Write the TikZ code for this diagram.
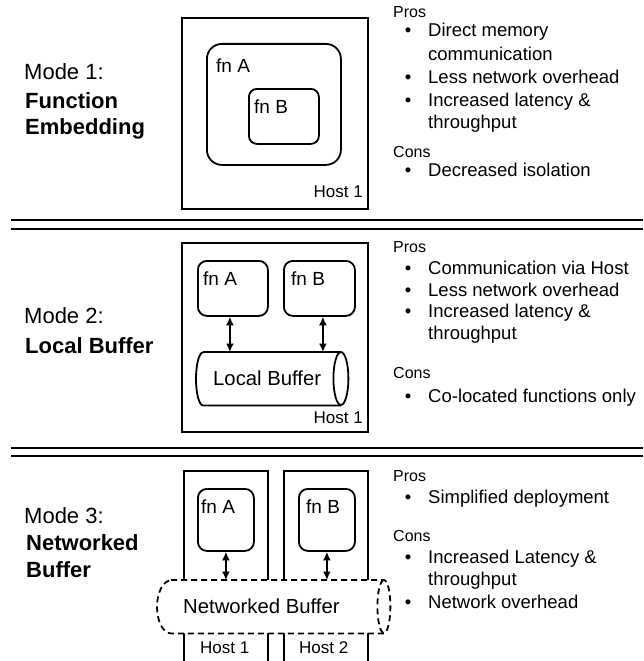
\documentclass[tikz,border=0pt]{standalone}
\usepackage{fontspec}
\setmainfont{Liberation Sans}
\usetikzlibrary{arrows.meta,calc}
\begin{document}
\begin{tikzpicture}[x=1pt,y=-1pt,
  box/.style={draw,line width=1.8pt,inner sep=0pt,anchor=north west},
  ghost/.style={inner sep=0pt,anchor=north west},
  modet/.style={anchor=base west,inner sep=0pt,font=\fontsize{22}{26}\selectfont},
  modeb/.style={modet,font=\fontsize{22}{26}\selectfont\bfseries},
  pc/.style={anchor=base west,inner sep=0pt,font=\fontsize{16}{19}\selectfont},
  itm/.style={anchor=base west,inner sep=0pt,font=\fontsize{18.5}{22}\selectfont},
  bul/.style={anchor=base,inner sep=0pt,font=\fontsize{18.5}{22}\selectfont},
  fnl/.style={anchor=base west,inner sep=0pt,font=\fontsize{19}{22}\selectfont},
  bufl/.style={anchor=base west,inner sep=0pt,font=\fontsize{20.3}{24}\selectfont},
  hostl/.style={inner sep=0pt,font=\fontsize{17}{20}\selectfont},
  sepline/.style={line width=2.4pt},
  dbl/.style={line width=1.8pt,{Latex[length=8.5pt,width=8pt]}-{Latex[length=8.5pt,width=8pt]}},
]
\useasboundingbox (0,0) rectangle (644,661);

% separators
\draw[sepline] (11,220) -- (643,220);
\draw[sepline] (11,229) -- (643,229);
\draw[sepline] (11,448) -- (643,448);
\draw[sepline] (11,456) -- (643,456);

% ---------------- Section 1 ----------------
\node[modet] (m1a) at (24,80) {Mode 1:};
\node[modeb] (m1b) at (25,108) {Function};
\node[modeb] (m1c) at (25,134) {Embedding};

\node[box,minimum width=186pt,minimum height=191pt] (h1) at (181,17) {};
\node[box,rounded corners=15pt,minimum width=134pt,minimum height=121pt] (fa1) at (206,43) {};
\node[box,rounded corners=8pt,minimum width=70pt,minimum height=55pt] (fb1) at (248,88) {};
\node[fnl] (fa1t) at (216,73) {fn A};
\node[fnl] (fb1t) at (254,113) {fn B};
\node[hostl,anchor=base east] (h1t) at (363,197) {Host 1};

\node[pc] (p1) at (393,18) {Pros};
\node[bul] (b11) at (408,37) {•};
\node[itm] (i11) at (428,37) {Direct memory};
\node[itm] (i12) at (428,60) {communication};
\node[bul] (b12) at (408,83) {•};
\node[itm] (i13) at (428,83) {Less network overhead};
\node[bul] (b13) at (408,106) {•};
\node[itm] (i14) at (428,106) {Increased latency \&};
\node[itm] (i15) at (428,128) {throughput};
\node[pc] (c1) at (393,157) {Cons};
\node[bul] (b14) at (408,176) {•};
\node[itm] (i16) at (428,176) {Decreased isolation};

% ---------------- Section 2 ----------------
\node[modet] (m2a) at (24,323) {Mode 2:};
\node[modeb] (m2b) at (25,353) {Local Buffer};

\node[box,minimum width=186pt,minimum height=189pt] (h2) at (181,242) {};
\node[box,rounded corners=9pt,minimum width=70pt,minimum height=55pt] (fa2) at (197,260) {};
\node[box,rounded corners=9pt,minimum width=71pt,minimum height=55pt] (fb2) at (283,260) {};
\node[fnl] (fa2t) at (203,285) {fn A};
\node[fnl] (fb2t) at (291,285) {fn B};
\node[ghost,minimum width=152pt,minimum height=53pt] (lbuf) at (196,352) {};
\draw[line width=1.8pt] ($(lbuf.north west)+(7,0)$) -- ($(lbuf.north east)+(-7.5,0)$)
  arc[start angle=90,end angle=-270,x radius=7.5pt,y radius=26.5pt];
\draw[line width=1.8pt] ($(lbuf.south east)+(-7.5,0)$) -- ($(lbuf.south west)+(7,0)$)
  arc[start angle=270,end angle=90,x radius=7pt,y radius=26.5pt];
\node[bufl] (lbuft) at (213,385) {Local Buffer};
\node[hostl,anchor=base east] (h2t) at (363,423) {Host 1};
\draw[dbl] ([xshift=-3pt]fa2.south) -- ([xshift=-3pt]fa2.south |- lbuf.north);
\draw[dbl] ([xshift=3.5pt]fb2.south) -- ([xshift=3.5pt]fb2.south |- lbuf.north);

\node[pc] (p2) at (393,252) {Pros};
\node[bul] (b21) at (408,274) {•};
\node[itm] (i21) at (428,274) {Communication via Host};
\node[bul] (b22) at (408,296) {•};
\node[itm] (i22) at (428,296) {Less network overhead};
\node[bul] (b23) at (408,317) {•};
\node[itm] (i23) at (428,317) {Increased latency \&};
\node[itm] (i24) at (428,339) {throughput};
\node[pc] (c2) at (393,378) {Cons};
\node[bul] (b24) at (408,402) {•};
\node[itm] (i25) at (428,402) {Co-located functions only};

% ---------------- Section 3 ----------------
\node[modet] (m3a) at (24,523) {Mode 3:};
\node[modeb] (m3b) at (26,550) {Networked};
\node[modeb] (m3c) at (26,577) {Buffer};

\node[box,minimum width=84pt,minimum height=196pt] (h31) at (183,470) {};
\node[box,minimum width=84pt,minimum height=196pt] (h32) at (283,470) {};
\node[box,rounded corners=9pt,minimum width=56pt,minimum height=62pt] (fa3) at (197,488) {};
\node[box,rounded corners=9pt,minimum width=56pt,minimum height=62pt] (fb3) at (298,488) {};
\node[fnl] (fa3t) at (201,513) {fn A};
\node[fnl] (fb3t) at (306,513) {fn B};
\node[ghost,minimum width=233pt,minimum height=53pt] (nbuf) at (157,580) {};
\fill[white] ($(nbuf.north west)+(14,0)$) -- ($(nbuf.north east)+(-6.5,0)$)
  arc[start angle=90,end angle=-90,x radius=6.5pt,y radius=26.5pt]
  -- ($(nbuf.south west)+(14,0)$)
  arc[start angle=270,end angle=90,x radius=14pt,y radius=26.5pt] -- cycle;
\draw[line width=1.8pt,dash pattern=on 6pt off 4pt] ($(nbuf.north west)+(14,0)$) -- ($(nbuf.north east)+(-6.5,0)$)
  arc[start angle=90,end angle=-270,x radius=6.5pt,y radius=26.5pt];
\draw[line width=1.8pt,dash pattern=on 6pt off 4pt] ($(nbuf.south east)+(-6.5,0)$) -- ($(nbuf.south west)+(14,0)$)
  arc[start angle=270,end angle=90,x radius=14pt,y radius=26.5pt];
\node[bufl] (nbuft) at (183,613) {Networked Buffer};
\node[hostl,anchor=base west] (h31t) at (200,653) {Host 1};
\node[hostl,anchor=base west] (h32t) at (299,653) {Host 2};
\draw[dbl] (fa3.south) -- (fa3.south |- nbuf.north);
\draw[dbl] (fb3.south) -- (fb3.south |- nbuf.north);

\node[pc] (p3) at (393,481) {Pros};
\node[bul] (b31) at (408,503) {•};
\node[itm] (i31) at (428,503) {Simplified deployment};
\node[pc] (c3) at (393,541) {Cons};
\node[bul] (b32) at (408,563) {•};
\node[itm] (i32) at (428,563) {Increased Latency \&};
\node[itm] (i33) at (428,585) {throughput};
\node[bul] (b33) at (408,608) {•};
\node[itm] (i34) at (428,608) {Network overhead};
\end{tikzpicture}
\end{document}
